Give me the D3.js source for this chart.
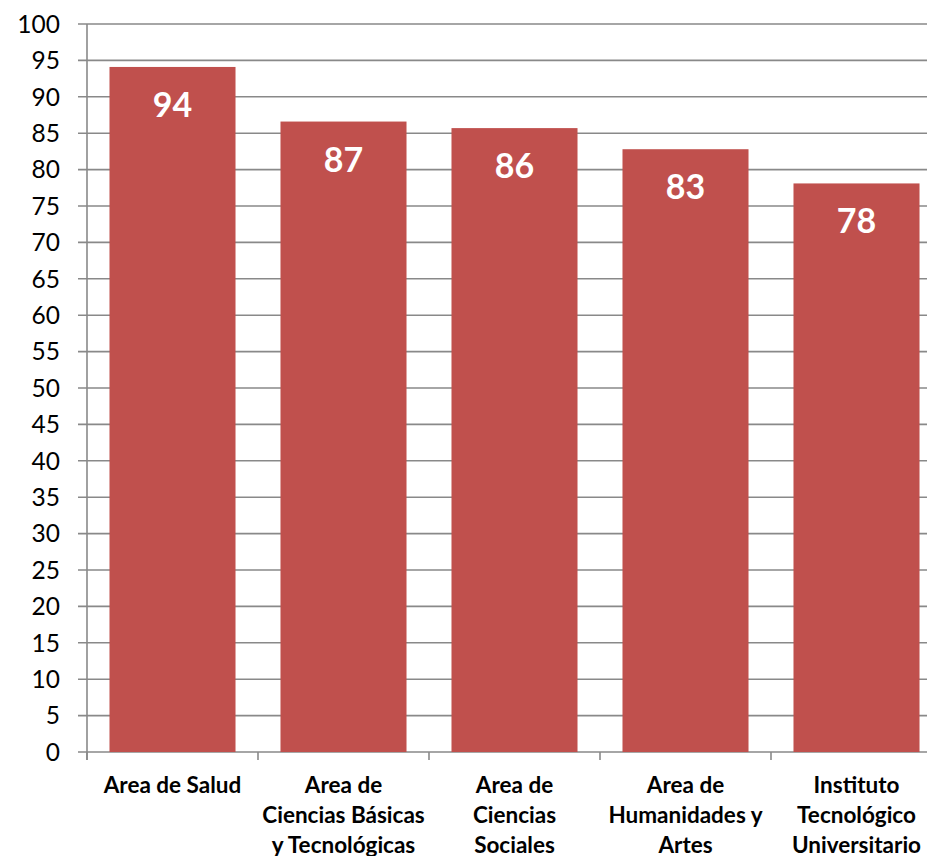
<!DOCTYPE html>
<html>
<head>
<meta charset="utf-8">
<script src="https://cdn.jsdelivr.net/npm/d3@7"></script>
<style>
  body { margin: 0; background: #fff; }
  svg { display: block; }
</style>
</head>
<body>
<div id="chart"></div>
<script>
// Data
var categories = [
    ["Area de Salud"],
    ["Area de", "Ciencias Básicas", "y Tecnológicas"],
    ["Area de", "Ciencias", "Sociales"],
    ["Area de", "Humanidades y", "Artes"],
    ["Instituto", "Tecnológico", "Universitario"]
];
var values = [94.1, 86.6, 85.7, 82.8, 78.1];
var yTicks = d3.range(0, 101, 5);

// Size information
var svgWidth = 927, svgHeight = 856;
var plot = {left: 87, right: 942, top: 24, bottom: 752};
var barColor = "#C0504D";
var gridColor = "#898989";

var svg = d3.select("#chart")
    .append("svg")
        .attr("width", svgWidth)
        .attr("height", svgHeight);

// Scales
var x = d3.scaleBand()
    .domain(d3.range(values.length))
    .range([plot.left, plot.right])
    .paddingInner(0.263)
    .paddingOuter(0.1315);

var y = d3.scaleLinear()
    .domain([0, 100])
    .range([plot.bottom, plot.top]);

// Gridlines + y ticks
svg.append("g")
    .selectAll("line")
    .data(yTicks)
    .join("line")
        .attr("x1", plot.left - 9)
        .attr("x2", plot.right)
        .attr("y1", d => y(d))
        .attr("y2", d => y(d))
        .attr("stroke", gridColor)
        .attr("stroke-width", 1.6);

svg.append("g")
    .selectAll("text")
    .data(yTicks)
    .join("text")
        .attr("x", 60)
        .attr("y", d => y(d))
        .attr("dy", "0.36em")
        .attr("text-anchor", "end")
        .style("font", "24.5px Lato, sans-serif")
        .attr("fill", "#000")
        .text(d => d);

// Bars
svg.append("g")
    .selectAll("rect")
    .data(values)
    .join("rect")
        .attr("x", (d, i) => x(i))
        .attr("width", x.bandwidth())
        .attr("y", d => y(d))
        .attr("height", d => y(0) - y(d))
        .attr("fill", barColor);

// Axes lines
svg.append("line")
    .attr("x1", plot.left).attr("x2", plot.left)
    .attr("y1", plot.top).attr("y2", plot.bottom + 8)
    .attr("stroke", gridColor).attr("stroke-width", 1.6);

var step = x.step();
svg.append("g")
    .selectAll("line")
    .data(d3.range(values.length + 1))
    .join("line")
        .attr("x1", d => plot.left + d * step)
        .attr("x2", d => plot.left + d * step)
        .attr("y1", plot.bottom)
        .attr("y2", plot.bottom + 8)
        .attr("stroke", gridColor)
        .attr("stroke-width", 1.6);

// Value labels
svg.append("g")
    .selectAll("text")
    .data(values)
    .join("text")
        .attr("x", (d, i) => x(i) + x.bandwidth() / 2)
        .attr("y", d => y(d) + 50)
        .attr("text-anchor", "middle")
        .attr("fill", "#fff")
        .style("font", "bold 34px Lato, sans-serif")
        .text(d => d3.format(".0f")(d));

// Category labels
var cat = svg.append("g")
    .selectAll("text")
    .data(categories)
    .join("text")
        .attr("text-anchor", "middle")
        .attr("fill", "#000")
        .style("font", "bold 22.5px Lato, sans-serif")
        .attr("transform", (d, i) => "translate(" + (x(i) + x.bandwidth() / 2) + ",793)");

cat.selectAll("tspan")
    .data(d => d)
    .join("tspan")
        .attr("x", 0)
        .attr("y", (d, i) => i * 30)
        .text(d => d);
</script>
</body>
</html>
